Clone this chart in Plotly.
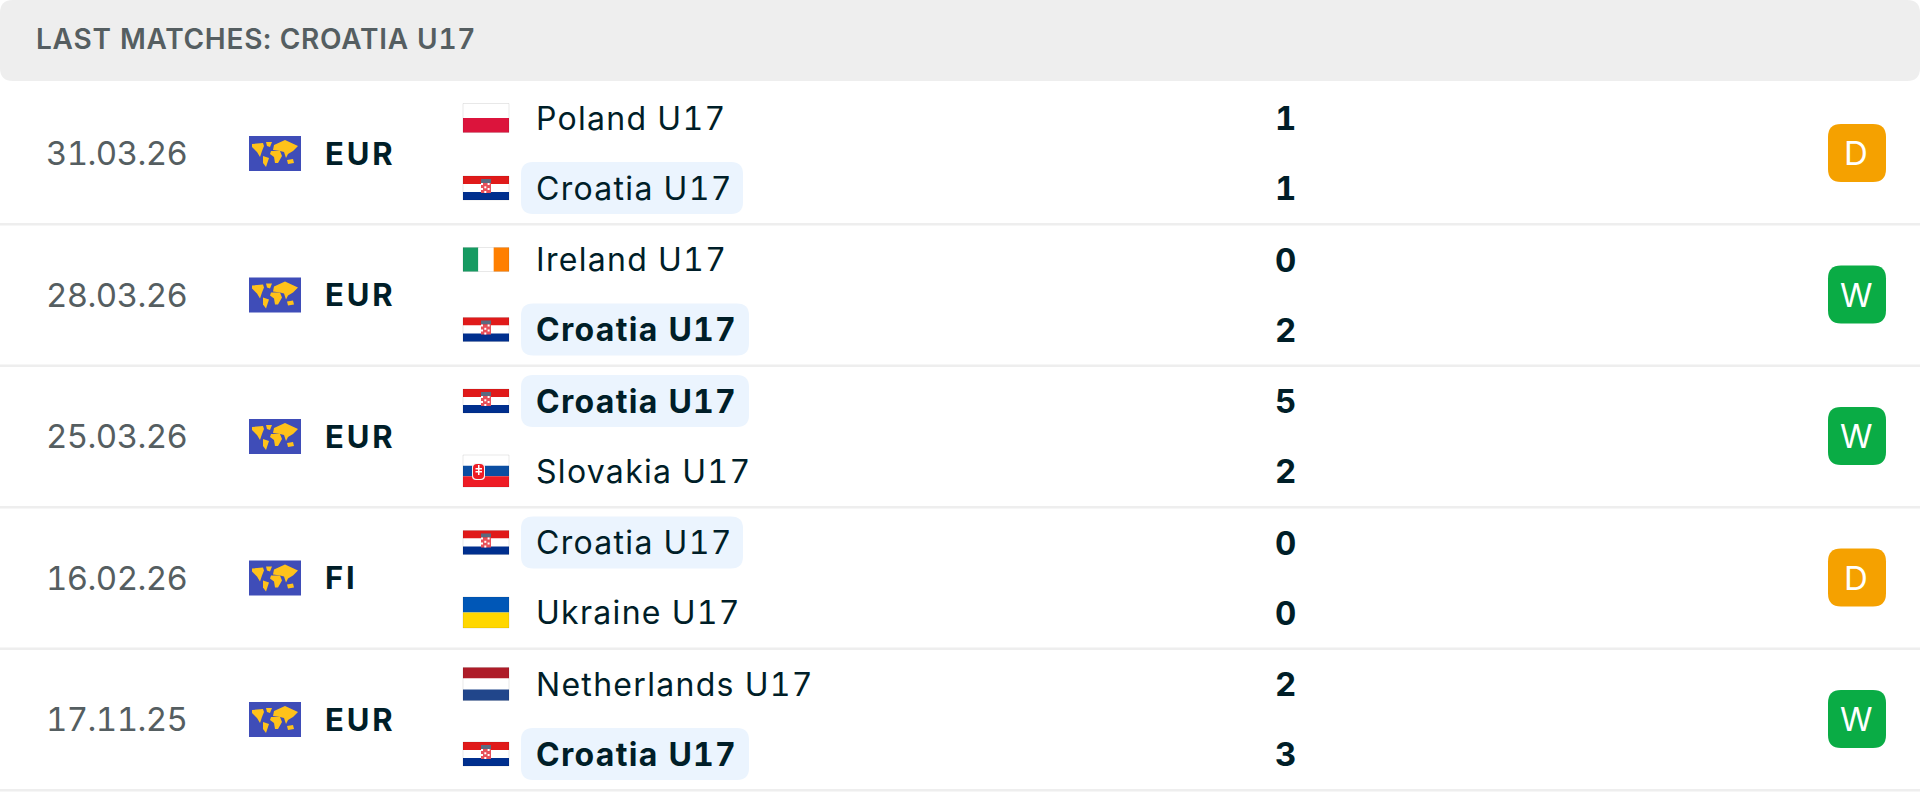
import plotly.graph_objects as go

match_dates = ['31.03.26', '28.03.26', '25.03.26', '16.02.26', '17.11.25']
competitions = ['EUR', 'EUR', 'EUR', 'FI', 'EUR']
home_teams = ['Poland U17', 'Ireland U17', 'Croatia U17', 'Croatia U17', 'Netherlands U17']
away_teams = ['Croatia U17', 'Croatia U17', 'Slovakia U17', 'Ukraine U17', 'Croatia U17']
home_scores = [1, 0, 5, 0, 2]
away_scores = [1, 2, 2, 0, 3]
results = ['D', 'W', 'W', 'D', 'W']
title_text = 'LAST MATCHES: CROATIA U17'
my_team = 'Croatia U17'

# flag: height in px, stripe colours
flags = {
    'Poland U17': (29, ['#FFFFFF', '#DC143C']),
    'Croatia U17': (24, ['#E01A1A', '#FFFFFF', '#002F8E']),
    'Ireland U17': (24, ['#169B62', '#FFFFFF', '#FF7F00']),
    'Slovakia U17': (32, ['#FFFFFF', '#0B4EA2', '#EE1C25']),
    'Ukraine U17': (31, ['#0057B7', '#FFD700']),
    'Netherlands U17': (33, ['#AE1C28', '#FFFFFF', '#21468B']),
}
badge_colors = {'D': '#F5A100', 'W': '#0AAC45'}

# world icon continents, px offsets from icon corner
continents = [
    [(3, 8), (14, 7), (15, 10), (13, 15), (11, 21), (8, 16), (3, 11)],
    [(17, 6), (23, 6), (21, 11), (18, 10)],
    [(14, 20), (20, 22), (17, 31), (14, 27)],
    [(25, 9), (36, 4), (49, 10), (44, 15), (39, 18), (37, 22), (35, 16), (31, 15), (24, 14)],
    [(22, 15), (31, 15), (33, 20), (29, 27), (26, 27), (25, 21), (21, 18)],
    [(38, 24), (44, 23), (45, 27), (39, 28)],
]

TEXT_DARK = '#001E28'
TEXT_GREY = '#555E61'
ROW_TOP = 153
ROW_PITCH = 141.5
ROW_OFFSET = 35


def rounded(x0, y0, x1, y1, r, color):
    path = (f'M{x0+r},{y0} L{x1-r},{y0} Q{x1},{y0} {x1},{y0+r} L{x1},{y1-r} Q{x1},{y1} {x1-r},{y1} '
            f'L{x0+r},{y1} Q{x0},{y1} {x0},{y1-r} L{x0},{y0+r} Q{x0},{y0} {x0+r},{y0} Z')
    return dict(type='path', path=path, fillcolor=color, line_width=0, xref='x', yref='y')


def rect(x0, y0, x1, y1, color):
    return dict(type='rect', x0=x0, y0=y0, x1=x1, y1=y1, fillcolor=color, line_width=0, xref='x', yref='y')


def label(x, y, text, size, color, weight=400, anchor='left', spacing=0):
    # numbers on the page are tabular, spacing is not a plotly font option so it goes in a span
    text = f'<span style="letter-spacing:{spacing}px;font-variant-numeric:tabular-nums">{text}</span>'
    return dict(x=x, y=y, text=text, showarrow=False, xanchor=anchor, yanchor='middle', xref='x', yref='y',
                font=dict(family='Inter', size=size, color=color, weight=weight))


def flag_shapes(team, cy):
    x0, x1 = 463, 509
    h, stripes = flags[team]
    y0 = cy - h / 2
    out = []
    if team == 'Ireland U17':  # the only vertical one
        w = (x1 - x0) / 3
        for i, c in enumerate(stripes):
            out.append(rect(x0 + i * w, y0, x0 + (i + 1) * w, y0 + h, c))
    else:
        sh = h / len(stripes)
        for i, c in enumerate(stripes):
            out.append(rect(x0, y0 + i * sh, x1, y0 + (i + 1) * sh, c))
    mx = (x0 + x1) / 2
    if team == 'Croatia U17':
        out.append(rect(mx - 5, cy - 9, mx + 5, cy - 5, '#5A6A80'))
        out.append(rect(mx - 5, cy - 5, mx + 5, cy + 5, '#E8505A'))
        for k in range(3):
            out.append(rect(mx - 5 + 3.3 * k, cy - 5 + 3.3 * (k % 2), mx - 3 + 3.3 * k, cy - 3 + 3.3 * (k % 2), '#FFFFFF'))
            out.append(rect(mx - 5 + 3.3 * k, cy + 3 * (k % 2), mx - 3 + 3.3 * k, cy + 2 + 3 * (k % 2), '#FFFFFF'))
    if team == 'Slovakia U17':
        out.append(rounded(x0 + 9, cy - 8, x0 + 22, cy + 9, 4, '#F6F6F6'))
        out.append(rounded(x0 + 10, cy - 7, x0 + 21, cy + 8, 4, '#EE1C25'))
        out.append(rect(x0 + 15, cy - 6, x0 + 16.5, cy + 4, '#FFFFFF'))
        out.append(rect(x0 + 12.5, cy - 3, x0 + 19, cy - 1.5, '#FFFFFF'))
        out.append(rect(x0 + 12.5, cy, x0 + 19, cy + 1.5, '#FFFFFF'))
    # faint edge, keeps the white stripes visible
    out.append(dict(type='rect', x0=x0, y0=y0, x1=x1, y1=y0 + h, xref='x', yref='y',
                    line=dict(color='rgba(0,0,0,0.09)', width=1)))
    return out


def world_icon(cy):
    x0, y0 = 249, cy - 17
    out = [rect(x0, y0, x0 + 52, y0 + 35, '#3F4DB8')]
    for poly in continents:
        pts = [f'{x0 + px},{y0 + py}' for px, py in poly]
        out.append(dict(type='path', path='M' + ' L'.join(pts) + ' Z', fillcolor='#FFC21A', line_width=0,
                        xref='x', yref='y'))
    return out


shapes = [rounded(0, 0, 1920, 81, 13, '#EEEEEE')]
annotations = [label(34, 39, title_text, 28, TEXT_GREY, weight=600, spacing=0.75)]

for i in range(len(match_dates)):
    cy = ROW_TOP + i * ROW_PITCH
    won = results[i] == 'W'
    annotations.append(label(43.5, cy, match_dates[i], 33, TEXT_GREY, spacing=-0.6))
    shapes += world_icon(cy)
    annotations.append(label(322.5, cy, competitions[i], 31, TEXT_DARK, weight=700, spacing=2.9))

    rows = [(home_teams[i], home_scores[i], cy - ROW_OFFSET), (away_teams[i], away_scores[i], cy + ROW_OFFSET)]
    for team, score, ty in rows:
        shapes += flag_shapes(team, ty)
        ours = team == my_team
        if ours:
            shapes.append(rounded(521, ty - 26, 749 if won else 743, ty + 26, 12, '#EBF4FE'))
        annotations.append(label(534, ty, team, 32, TEXT_DARK, weight=700 if ours and won else 400, spacing=1.3))
        annotations.append(label(1285, ty, str(score), 33, TEXT_DARK, weight=700, anchor='center'))

    shapes.append(rounded(1828, cy - 29, 1886, cy + 29, 13, badge_colors[results[i]]))
    annotations.append(label(1856, cy, results[i], 33, '#FFFFFF', anchor='center'))
    shapes.append(rect(0, cy + 70, 1920, cy + 72.5, '#EEEEEE'))

fig = go.Figure()
fig.update_layout(
    width=1920, height=792,
    margin=dict(l=0, r=0, t=0, b=0),
    paper_bgcolor='#FFFFFF', plot_bgcolor='#FFFFFF',
    xaxis=dict(range=[0, 1920], visible=False, fixedrange=True),
    yaxis=dict(range=[792, 0], visible=False, fixedrange=True),
    shapes=shapes, annotations=annotations, showlegend=False,
)

# browser default body margin would push the whole page 8px off
fig.write_html("out.html", config=dict(displayModeBar=False), post_script="document.body.style.margin='0';")
